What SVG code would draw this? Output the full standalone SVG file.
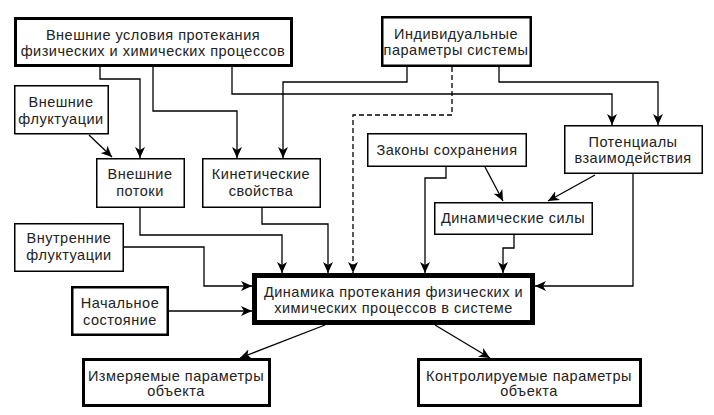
<svg xmlns="http://www.w3.org/2000/svg" width="714" height="415" viewBox="0 0 714 415">
<defs>
<marker id="ah" markerUnits="userSpaceOnUse" markerWidth="12" markerHeight="10" refX="11" refY="5" orient="auto">
<path d="M0,0 L11,5 L0,10 L3,5 z" fill="#000"/>
</marker>
<style>
.b{fill:#fff;stroke:#000;stroke-width:1.5}
.b2{fill:#fff;stroke:#000;stroke-width:2.5}
.b3{fill:#fff;stroke:#000;stroke-width:3}
.bm{fill:#fff;stroke:#000;stroke-width:5}
.c{fill:none;stroke:#000;stroke-width:1.3}
.a{marker-end:url(#ah)}
.d{stroke-dasharray:5,3}
text{font-family:"Liberation Sans",Arial,sans-serif;font-size:14.5px;letter-spacing:0.5px;fill:#222;text-anchor:middle}
</style>
</defs>
<rect width="714" height="415" fill="#fff"/>
<g id="connectors">
<polyline class="c a" points="100,67 100,79 140,79 140,158"/>
<polyline class="c a" points="153,67 153,111 237,111 237,158"/>
<polyline class="c a" points="232,67 232,94 612,94 612,125"/>
<polyline class="c a" points="407,67 407,82 283,82 283,158"/>
<polyline class="c a" points="499,67 499,82 658,82 658,125"/>
<polyline class="c a d" points="452,67 452,115 353,115 353,273"/>
<line class="c a" x1="89" y1="135" x2="112" y2="157"/>
<polyline class="c a" points="140,208 140,235 282,235 282,273"/>
<polyline class="c a" points="262,208 262,224 328,224 328,273"/>
<polyline class="c a" points="124,247 204,247 204,286 252,286"/>
<line class="c a" x1="169" y1="311" x2="252" y2="311"/>
<polyline class="c a" points="446,167 446,178 425,178 425,273"/>
<line class="c a" x1="485" y1="167" x2="503" y2="201"/>
<line class="c a" x1="595" y1="175" x2="548" y2="201"/>
<polyline class="c a" points="514,235 514,248 503,248 503,273"/>
<polyline class="c a" points="633,174 633,286 535,286"/>
<line class="c a" x1="325" y1="325" x2="240" y2="358"/>
<line class="c a" x1="435" y1="325" x2="490" y2="358"/>
</g>
<g id="n_ext_cond"><rect class="b3" x="15.5" y="18.5" width="276" height="47"/><text x="153" y="39.5">Внешние условия протекания</text><text x="153" y="55.5">физических и химических процессов</text></g>
<g id="n_indiv"><rect class="b2" x="382.25" y="17.25" width="148.5" height="48.5"/><text x="456" y="38.5">Индивидуальные</text><text x="456" y="54.5">параметры системы</text></g>
<g id="n_ext_fluct"><rect class="b" x="14.75" y="85.75" width="93.5" height="48"/><text x="61" y="107">Внешние</text><text x="61" y="124">флуктуации</text></g>
<g id="n_ext_flows"><rect class="b" x="96.75" y="158.75" width="87.5" height="48.5"/><text x="140" y="179">Внешние</text><text x="140" y="196">потоки</text></g>
<g id="n_kinetic"><rect class="b" x="202.75" y="158.75" width="117.5" height="48.5"/><text x="261" y="179">Кинетические</text><text x="261" y="196">свойства</text></g>
<g id="n_int_fluct"><rect class="b" x="14.75" y="223.75" width="108.5" height="47.5"/><text x="69" y="243">Внутренние</text><text x="69" y="260">флуктуации</text></g>
<g id="n_init"><rect class="b2" x="72.25" y="287.25" width="95.5" height="47.5"/><text x="120" y="308">Начальное</text><text x="120" y="325">состояние</text></g>
<g id="n_laws"><rect class="b" x="367.75" y="133.75" width="158.5" height="32.5"/><text x="447" y="155">Законы сохранения</text></g>
<g id="n_potentials"><rect class="b" x="564.75" y="125.75" width="137.5" height="47.5"/><text x="633" y="147">Потенциалы</text><text x="633" y="163">взаимодействия</text></g>
<g id="n_forces"><rect class="b" x="434.75" y="202.75" width="157.5" height="31.5"/><text x="513" y="223">Динамические силы</text></g>
<g id="n_main"><rect class="bm" x="254.5" y="275.5" width="278" height="47"/><text x="393.5" y="297">Динамика протекания физических и</text><text x="393.5" y="313">химических процессов в системе</text></g>
<g id="n_measured"><rect class="b3" x="83.5" y="359.5" width="186" height="46"/><text x="176" y="381">Измеряемые параметры</text><text x="176" y="396">объекта</text></g>
<g id="n_controlled"><rect class="b3" x="418.5" y="359.5" width="222" height="46"/><text x="529" y="381">Контролируемые параметры</text><text x="529" y="396">объекта</text></g>
</svg>
